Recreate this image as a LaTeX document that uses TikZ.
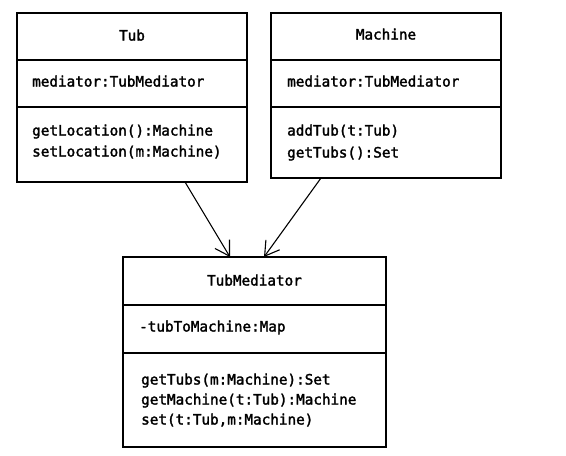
\documentclass[tikz,border=0pt]{standalone}
\usepackage{fontspec}
\newfontfamily\umlfont[FakeBold=2]{DejaVu Sans Mono}
\usetikzlibrary{arrows.meta}
\tikzset{
  x=1pt,y=-1pt,
  classbox/.style={draw, line width=1.3pt, rectangle, inner sep=0pt},
  divider/.style={line width=1.3pt},
  lbl/.style={inner sep=0pt, font=\umlfont\fontsize{14.3}{16}\selectfont, text height=10pt, text depth=3pt},
  lblw/.style={lbl, anchor=west},
  assoc/.style={line width=1.1pt, -{Straight Barb[length=14pt,width=17pt,line width=1.1pt]}}
}
\begin{document}
\begin{tikzpicture}
\useasboundingbox (0,0) rectangle (566,456);
% Tub
\node[classbox, minimum width=230pt, minimum height=169pt] (tub) at (132,97.5) {};
\draw[divider] (17,60) -- (247,60);
\draw[divider] (17,107) -- (247,107);
\node[lbl] (tubname) at (132,37) {Tub};
\node[lblw] (tubattr) at (32,83) {mediator:TubMediator};
\node[lblw] (tubm1) at (32,132) {getLocation():Machine};
\node[lblw] (tubm2) at (32,153) {setLocation(m:Machine)};
% Machine
\node[classbox, minimum width=230pt, minimum height=165pt] (mach) at (386,95.5) {};
\draw[divider] (271,60) -- (501,60);
\draw[divider] (271,107) -- (501,107);
\node[lbl] (machname) at (386,36) {Machine};
\node[lblw] (machattr) at (287,83) {mediator:TubMediator};
\node[lblw] (machm1) at (287,132) {addTub(t:Tub)};
\node[lblw] (machm2) at (287,154) {getTubs():Set};
% TubMediator
\node[classbox, minimum width=263pt, minimum height=190pt] (med) at (254.5,352) {};
\draw[divider] (123,305) -- (386,305);
\draw[divider] (123,353) -- (386,353);
\node[lbl] (medname) at (254.5,282) {TubMediator};
\node[lblw] (medattr) at (139,328) {-tubToMachine:Map};
\node[lblw] (medm1) at (141,381) {getTubs(m:Machine):Set};
\node[lblw] (medm2) at (141,401) {getMachine(t:Tub):Machine};
\node[lblw] (medm3) at (141,421) {set(t:Tub,m:Machine)};
% connectors
\coordinate (tubout) at (185,182);
\coordinate (medin1) at (230,257);
\coordinate (machout) at (321,178);
\coordinate (medin2) at (264,257);
\draw[assoc] (tubout) -- (medin1);
\draw[assoc] (machout) -- (medin2);
\end{tikzpicture}
\end{document}
